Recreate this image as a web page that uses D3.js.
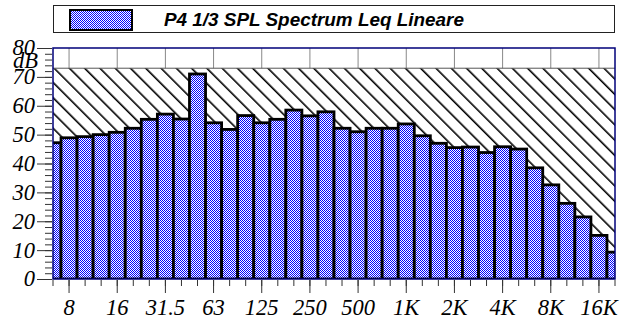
<!DOCTYPE html>
<html>
<head>
<meta charset="utf-8">
<script src="https://cdn.jsdelivr.net/npm/d3@7"></script>
<style>
  body { margin: 0; background: #fff; }
  svg { display: block; }
</style>
</head>
<body>
<div id="chart"></div>
<script>
// 1/3 octave bands (centre frequencies)
const bands = ["6.3","8","10","12.5","16","20","25","31.5","40","50","63","80","100","125","160","200",
  "250","315","400","500","630","800","1K","1.25K","1.6K","2K","2.5K","3.15K","4K","5K","6.3K","8K",
  "10K","12.5K","16K","20K"];
// Leq per band, dB
const levels = [47.2,48.9,49.3,50.0,50.8,52.2,55.3,57.1,55.4,71.0,54.1,51.8,56.6,54.1,55.3,58.5,
  56.5,57.9,52.2,51.0,52.2,52.2,53.7,49.6,47.0,45.5,45.7,43.8,45.8,45.0,38.5,32.6,
  26.2,21.5,15.1,9.3];
const octaveLabels = ["8","16","31.5","63","125","250","500","1K","2K","4K","8K","16K"];
const yTicks = [0,10,20,30,40,50,60,70,80];
const yMinor = d3.range(0, 81, 2);
const limitLevel = 73;
const seriesName = "P4 1/3 SPL Spectrum Leq Lineare";

const W = 622, H = 320;
const plot = {left: 53, right: 615, top: 48, bottom: 279};
const serifFamily = "'Liberation Serif'";

const svg = d3.select("#chart").append("svg")
  .attr("width", W).attr("height", H);

const defs = svg.append("defs");

// blue checkerboard fill
const chk = defs.append("pattern")
  .attr("id", "chk").attr("patternUnits", "userSpaceOnUse")
  .attr("width", 2).attr("height", 2);
chk.append("rect").attr("width", 2).attr("height", 2).attr("fill", "#fff")
  .attr("shape-rendering", "crispEdges");
chk.append("rect").attr("width", 1).attr("height", 1).attr("fill", "#0000ff")
  .attr("shape-rendering", "crispEdges");
chk.append("rect").attr("x", 1).attr("y", 1).attr("width", 1).attr("height", 1).attr("fill", "#0000ff")
  .attr("shape-rendering", "crispEdges");

// diagonal hatch
const hatch = defs.append("pattern")
  .attr("id", "hatch").attr("patternUnits", "userSpaceOnUse")
  .attr("width", 10.8).attr("height", 10)
  .attr("patternTransform", "rotate(-45)");
hatch.append("rect").attr("width", 10.8).attr("height", 10).attr("fill", "#fff");
hatch.append("line").attr("x1", 0.8).attr("x2", 0.8).attr("y1", 0).attr("y2", 10)
  .attr("stroke", "#000").attr("stroke-width", 1.6);

defs.append("clipPath").attr("id", "clip")
  .append("rect")
  .attr("x", plot.left).attr("y", plot.top)
  .attr("width", plot.right - plot.left).attr("height", plot.bottom - plot.top);

// scales: first and last band centres sit on the plot edges
const step = (plot.right - plot.left) / (bands.length - 1);
const x = d3.scaleBand()
  .domain(bands)
  .range([plot.left - step / 2, plot.right + step / 2])
  .padding(0);
const cx = d => x(d) + x.bandwidth() / 2;

const y = d3.scaleLinear().domain([0, 80]).range([plot.bottom, plot.top]);

// legend
svg.append("rect")
  .attr("x", 53.5).attr("y", 5.5).attr("width", 561).attr("height", 27)
  .attr("fill", "#fff").attr("stroke", "#222").attr("stroke-width", 1);
svg.append("rect")
  .attr("x", 70).attr("y", 10).attr("width", 62).attr("height", 20)
  .attr("fill", "url(#chk)").attr("stroke", "#000").attr("stroke-width", 2);
svg.append("text")
  .attr("x", 164).attr("y", 25.5)
  .style("font-family", "'Liberation Sans'")
  .style("font-size", "18.9px").style("font-weight", 700).style("font-style", "italic")
  .text(seriesName);

const g = svg.append("g").attr("clip-path", "url(#clip)");

// octave grid lines (visible only in the band above the hatch)
g.selectAll(".grid").data(octaveLabels).join("line")
  .attr("x1", cx).attr("x2", cx)
  .attr("y1", plot.top).attr("y2", plot.bottom)
  .attr("stroke", "#888").attr("stroke-width", 1);

// hatched area up to limit
g.append("rect")
  .attr("x", plot.left).attr("y", y(limitLevel))
  .attr("width", plot.right - plot.left).attr("height", y(0) - y(limitLevel))
  .attr("fill", "url(#hatch)");
g.append("line")
  .attr("x1", plot.left).attr("x2", plot.right)
  .attr("y1", y(limitLevel)).attr("y2", y(limitLevel))
  .attr("stroke", "#555").attr("stroke-width", 1);

// bars
g.selectAll(".bar").data(levels).join("rect")
  .attr("x", (d, i) => x(bands[i]))
  .attr("y", d => y(d))
  .attr("width", x.bandwidth())
  .attr("height", d => y(0) - y(d))
  .attr("fill", "url(#chk)")
  .attr("stroke", "#000").attr("stroke-width", 2.8);

// frame
svg.append("rect")
  .attr("x", plot.left).attr("y", plot.top)
  .attr("width", plot.right - plot.left).attr("height", plot.bottom - plot.top)
  .attr("fill", "none").attr("stroke", "#00007a").attr("stroke-width", 1.5);

// y axis ticks
const yMinorAxis = svg.append("g")
  .attr("transform", `translate(${plot.left - 1},0)`)
  .call(d3.axisLeft(y).tickValues(yMinor).tickSize(7).tickFormat(""));
yMinorAxis.select(".domain").remove();
yMinorAxis.selectAll("line").attr("stroke", "#333");

const yAxis = svg.append("g")
  .attr("transform", `translate(${plot.left - 1},0)`)
  .call(d3.axisLeft(y).tickValues(yTicks).tickSize(15).tickFormat(""));
yAxis.select(".domain").remove();
yAxis.selectAll("line").attr("stroke", "#333");

// x axis ticks
const xMinorAxis = svg.append("g")
  .attr("transform", `translate(0,${plot.bottom + 1})`)
  .call(d3.axisBottom(x).tickSize(6).tickFormat(""));
xMinorAxis.select(".domain").remove();
xMinorAxis.selectAll("line").attr("stroke", "#333");

const xAxis = svg.append("g")
  .attr("transform", `translate(0,${plot.bottom + 1})`)
  .call(d3.axisBottom(x).tickValues(octaveLabels).tickSize(13).tickFormat(""));
xAxis.select(".domain").remove();
xAxis.selectAll("line").attr("stroke", "#333");

// labels as plain texts in the italic serif face
const labels = svg.append("g")
  .style("font-family", serifFamily)
  .style("font-style", "italic")
  .style("font-size", "22.5px");

labels.selectAll(".ylab").data(yTicks).join("text")
  .attr("x", plot.left - 18).attr("y", d => y(d))
  .attr("dy", "0.33em").attr("text-anchor", "end")
  .text(d => d);

labels.append("text")
  .attr("x", 38).attr("y", 68)
  .attr("text-anchor", "end")
  .text("dB");

labels.selectAll(".xlab").data(octaveLabels).join("text")
  .attr("x", cx).attr("y", plot.bottom + 36)
  .attr("text-anchor", "middle")
  .text(d => d);
</script>
</body>
</html>
